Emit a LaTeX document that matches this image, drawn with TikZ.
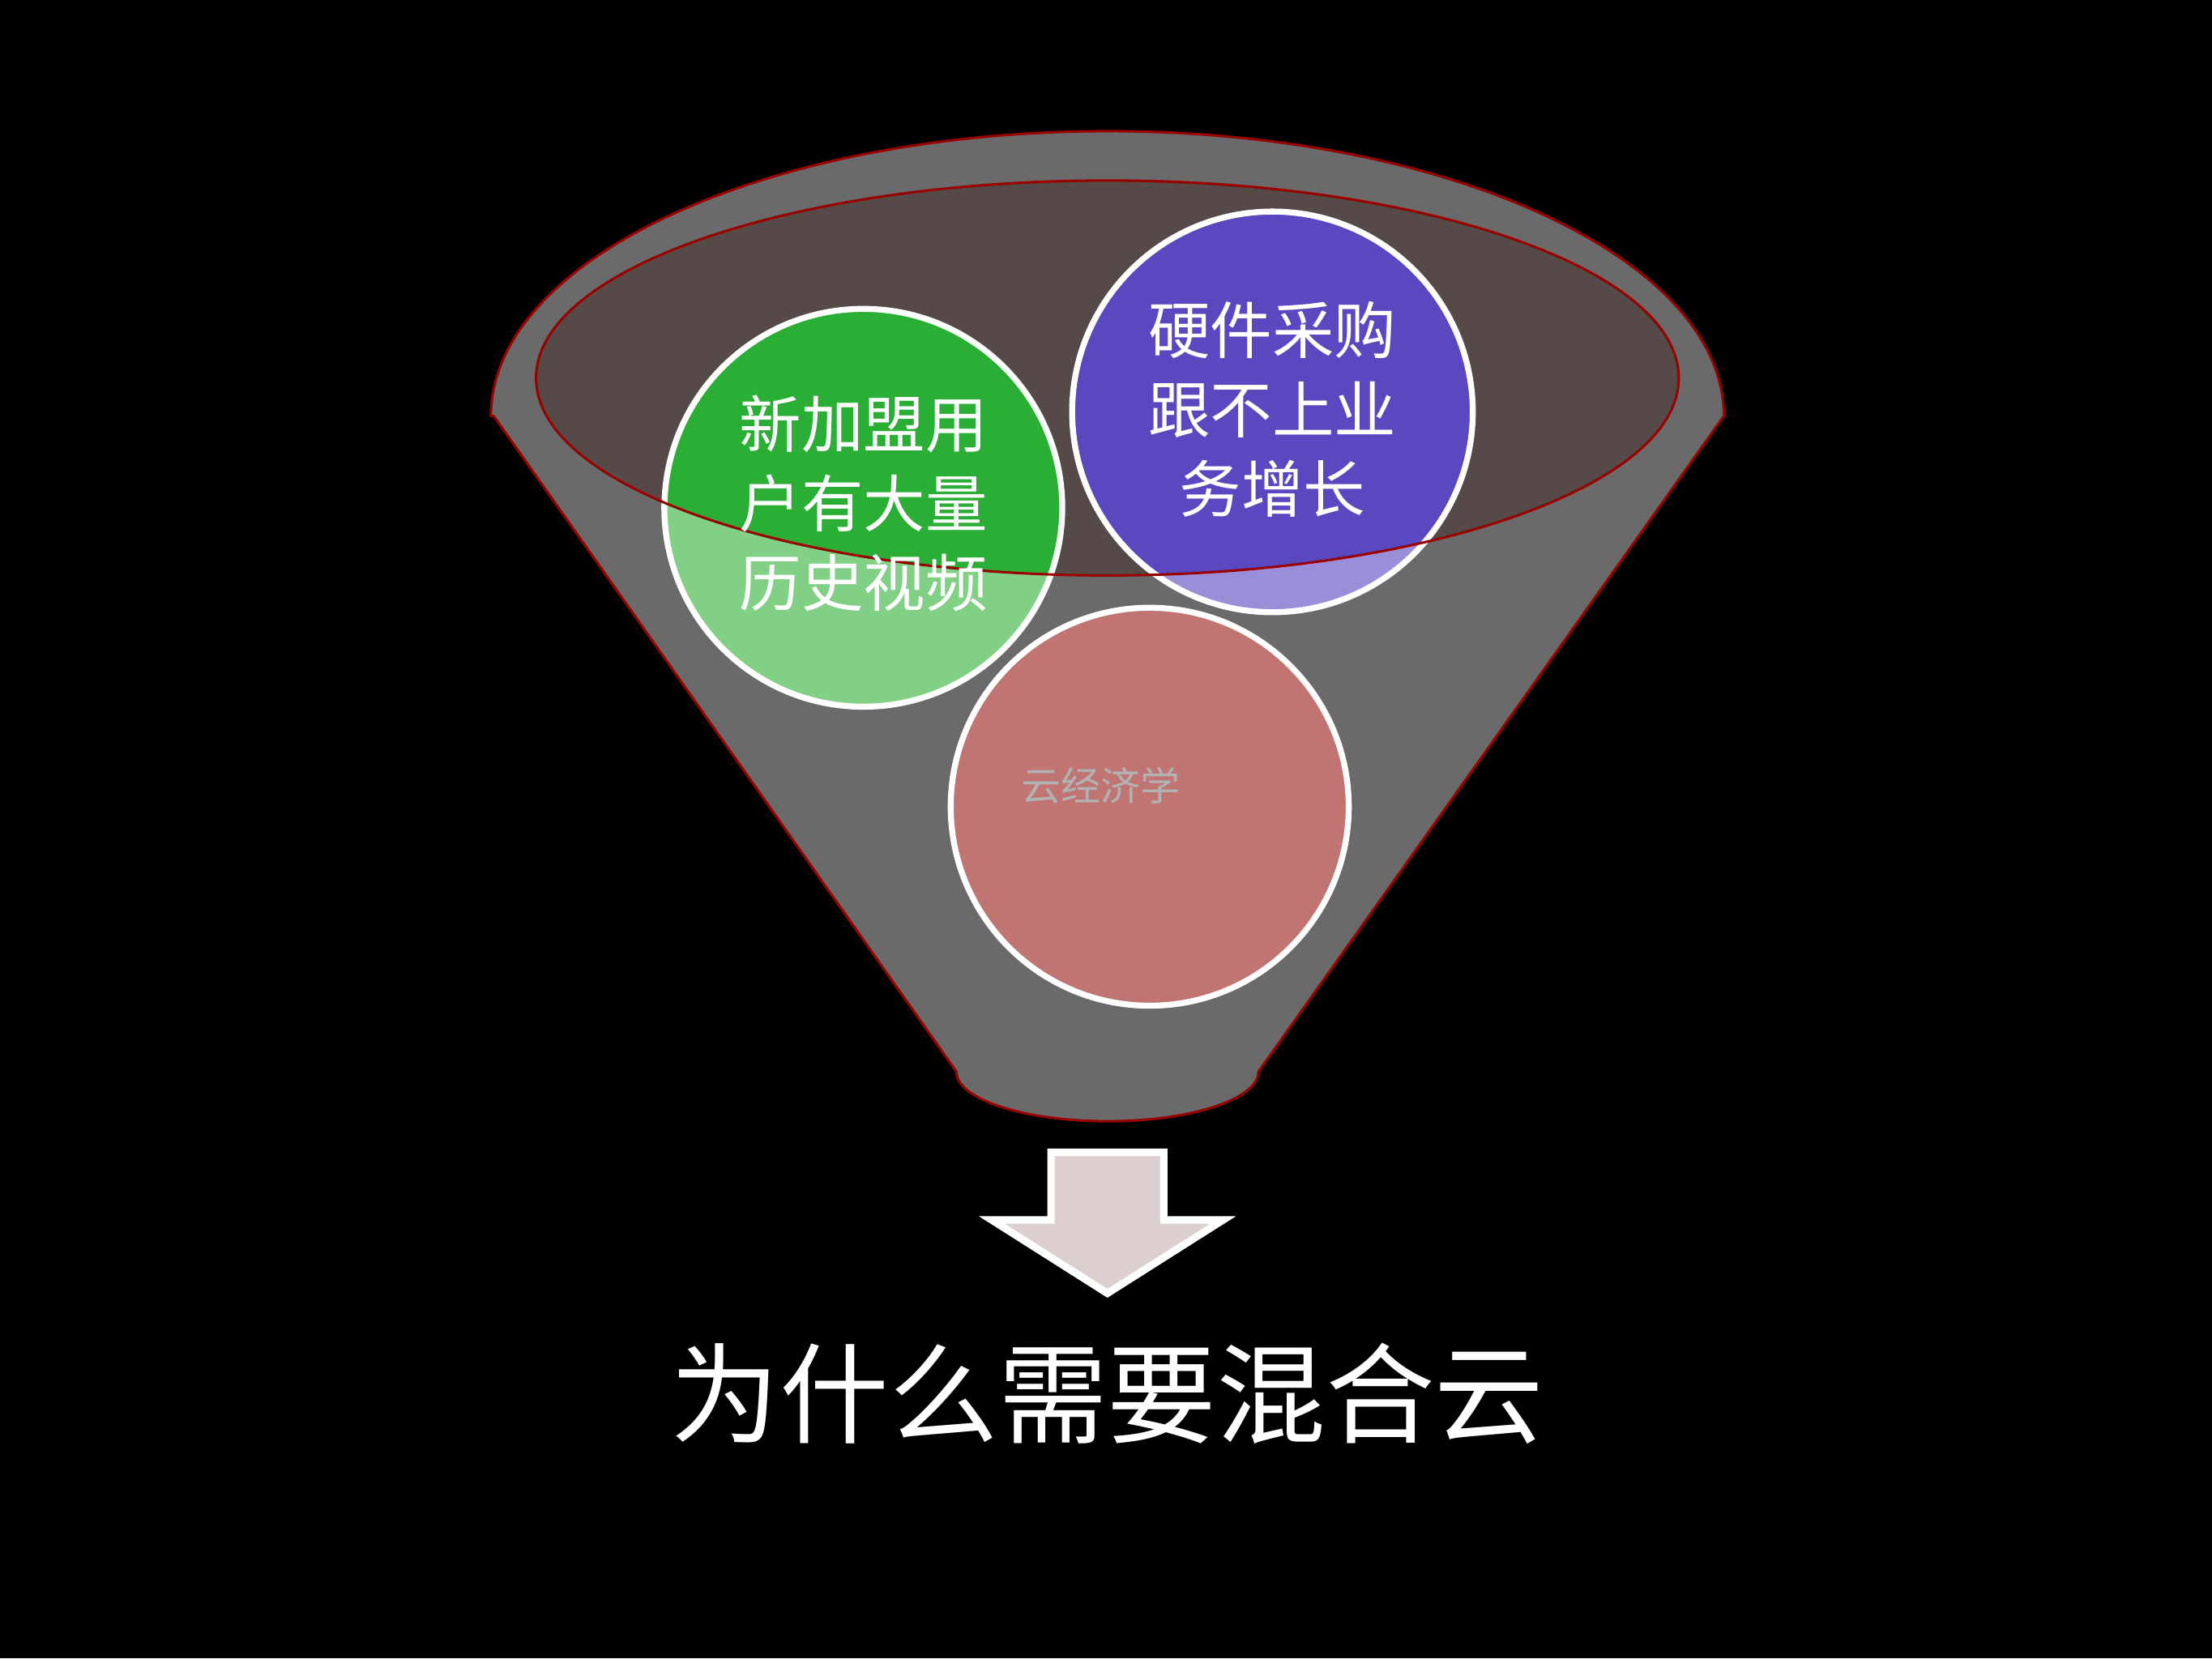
\documentclass[tikz,border=0pt]{standalone}
\usepackage{fontspec}
\newfontfamily\cjk{Noto Sans CJK SC}
\definecolor{funnel}{HTML}{6A6A6A}
\definecolor{inner}{HTML}{554A48}
\definecolor{gdark}{HTML}{2AAE35}
\definecolor{glight}{HTML}{82D086}
\definecolor{pdark}{HTML}{5A48C0}
\definecolor{plight}{HTML}{9A8ED8}
\definecolor{rcirc}{HTML}{C07572}
\definecolor{arrowc}{HTML}{DCCFCF}
\begin{document}
\begin{tikzpicture}[x=0.01cm,y=-0.01cm,
  bubble/.style={circle,draw=white,line width=1.2pt,inner sep=0pt},
  lbl/.style={text=white,font=\cjk\fontsize{12.5}{16}\selectfont,align=center}]
\fill[black] (0,0) rectangle (1568,1176);
\useasboundingbox (0,0) rectangle (1568,1176);
% funnel body
\draw[fill=funnel,draw=red!60!black,line width=0.5pt]
  (350,295) -- (678,760) arc[start angle=180,end angle=360,x radius=107,y radius=-35]
  -- (1222,295) arc[start angle=0,end angle=180,x radius=437,y radius=-202] -- cycle;
% circles light
\node[bubble,fill=glight,minimum size=2.82cm] (g) at (612,360) {};
\node[bubble,fill=plight,minimum size=2.84cm] (p) at (902,292) {};
\node[bubble,fill=rcirc,minimum size=2.82cm] (r) at (815,572) {};
% inner ellipse
\fill[inner] (785,268) ellipse[x radius=405,y radius=140];
\begin{scope}
\clip (785,268) ellipse[x radius=405,y radius=140];
\fill[gdark] (612,360) circle[radius=141];
\fill[pdark] (902,292) circle[radius=142];
\draw[white,line width=1.2pt] (612,360) circle[radius=141];
\draw[white,line width=1.2pt] (902,292) circle[radius=142];
\end{scope}
\draw[red!60!black,line width=0.5pt] (785,268) ellipse[x radius=405,y radius=140];
\node[lbl] (gt) at (612,357) {新加盟用\\户有大量\\历史视频};
\node[lbl] (pt) at (902,290) {硬件采购\\跟不上业\\务增长};
\node[text=gray!60,font=\cjk\fontsize{8}{10}\selectfont] (rt) at (780,557) {云经济学};
% arrow
\draw[fill=arrowc,draw=white,line width=1.5pt] (745,817) -- (825,817) -- (825,865) -- (867,865)
  -- (785,917) -- (703,865) -- (745,865) -- cycle;
\node[text=white,font=\cjk\fontsize{22}{26}\selectfont] (title) at (785,988) {为什么需要混合云};
\end{tikzpicture}
\end{document}
